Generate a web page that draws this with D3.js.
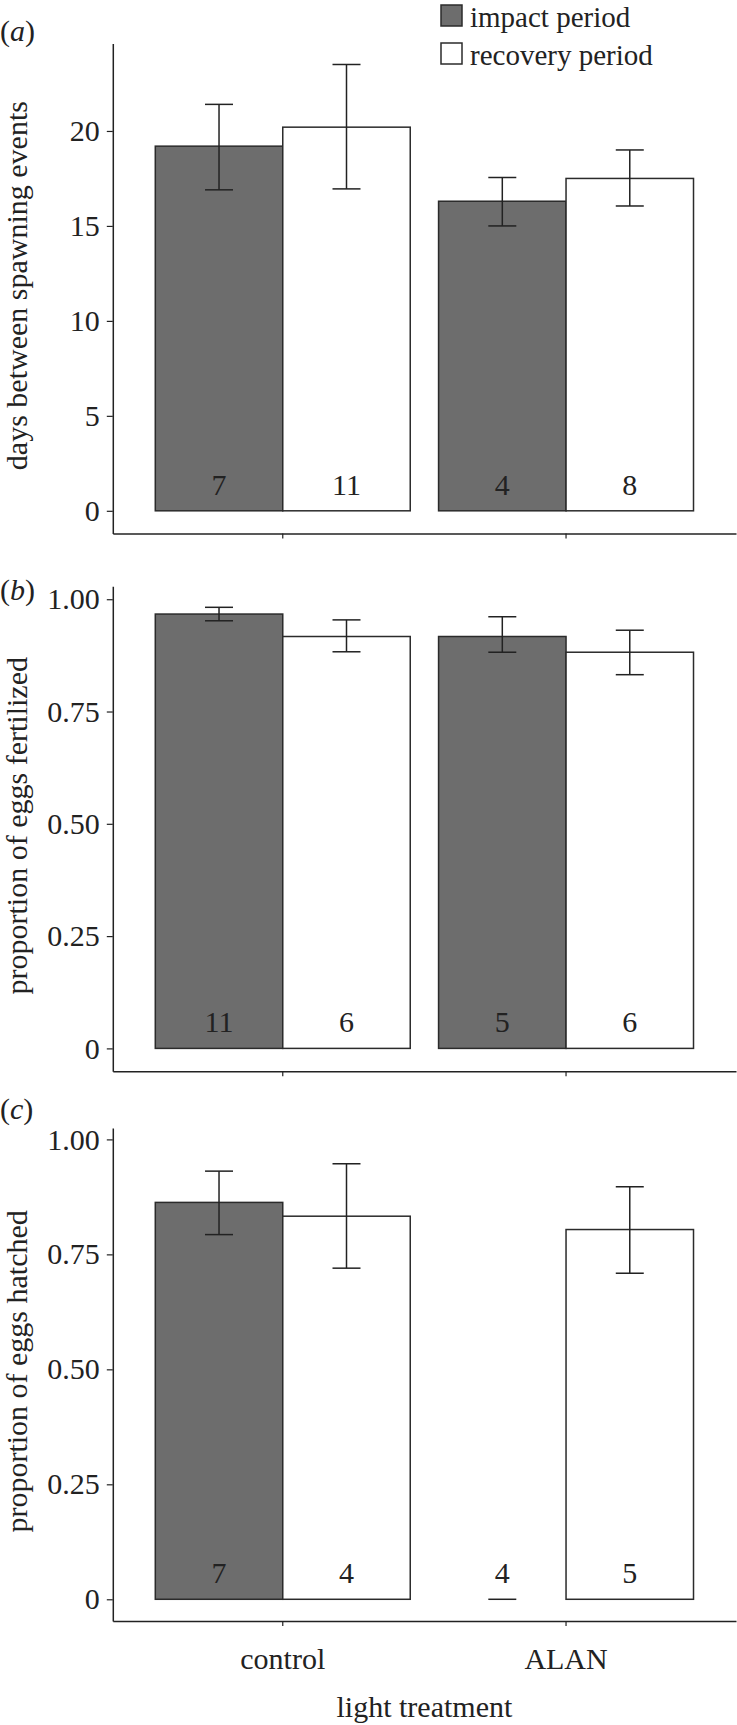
<!DOCTYPE html>
<html>
<head>
<meta charset="utf-8">
<script src="https://cdn.jsdelivr.net/npm/d3@7"></script>
<style>
  html, body { margin: 0; padding: 0; background: #fff; }
  svg { display: block; }
  text { font-family: "Liberation Serif", "Times New Roman", serif; fill: #222; }
</style>
</head>
<body>
<svg id="chart" width="737" height="1725"></svg>
<script>
// ---- data ----
const categories = ["control", "ALAN"];
const periods = ["impact period", "recovery period"];

// (a) days between spawning events
const aImpact = [19.2, 16.3];
const aImpactLo = [16.9, 15.0];
const aImpactHi = [21.4, 17.55];
const aImpactN = [7, 4];
const aRecovery = [20.2, 17.5];
const aRecoveryLo = [16.95, 16.05];
const aRecoveryHi = [23.5, 19.0];
const aRecoveryN = [11, 8];
const aTicks = [0, 5, 10, 15, 20];
const aTickLabels = ["0", "5", "10", "15", "20"];

// (b) proportion of eggs fertilized
const bImpact = [0.967, 0.917];
const bImpactLo = [0.952, 0.882];
const bImpactHi = [0.982, 0.961];
const bImpactN = [11, 5];
const bRecovery = [0.917, 0.882];
const bRecoveryLo = [0.883, 0.832];
const bRecoveryHi = [0.954, 0.931];
const bRecoveryN = [6, 6];

// (c) proportion of eggs hatched
const cImpact = [0.863, 0];
const cImpactLo = [0.793, 0];
const cImpactHi = [0.931, 0];
const cImpactN = [7, 4];
const cRecovery = [0.833, 0.804];
const cRecoveryLo = [0.720, 0.709];
const cRecoveryHi = [0.947, 0.897];
const cRecoveryN = [4, 5];

const propTicks = [0, 0.25, 0.5, 0.75, 1.0];
const propTickLabels = ["0", "0.25", "0.50", "0.75", "1.00"];

const yLabels = ["days between spawning events", "proportion of eggs fertilized", "proportion of eggs hatched"];
const panelTags = ["a", "b", "c"];
const xTitle = "light treatment";

// ---- layout ----
const FS = 30;
const INK = "#222";
const DARK = "#6d6d6d";
const svg = d3.select("#chart");

const xLeft = 112.8, xRight = 736;
const x0 = d3.scaleBand().domain(categories).range([xLeft, xRight]).paddingInner(0.1).paddingOuter(0.15);
const x1 = d3.scaleBand().domain(periods).range([0, x0.bandwidth()]);
const fill = d3.scaleOrdinal().domain(periods).range([DARK, "#ffffff"]);

function rows(imp, impLo, impHi, impN, rec, recLo, recHi, recN) {
  const out = [];
  categories.forEach((c, i) => {
    out.push({cat: c, per: periods[0], v: imp[i], lo: impLo[i], hi: impHi[i], n: impN[i]});
    out.push({cat: c, per: periods[1], v: rec[i], lo: recLo[i], hi: recHi[i], n: recN[i]});
  });
  return out;
}

const panels = [
  { data: rows(aImpact, aImpactLo, aImpactHi, aImpactN, aRecovery, aRecoveryLo, aRecoveryHi, aRecoveryN),
    domain: [-1.2, 24.6], range: [533.6, 43.6], ticks: aTicks, tickLabels: aTickLabels,
    tagY: 41, xLabels: false },
  { data: rows(bImpact, bImpactLo, bImpactHi, bImpactN, bRecovery, bRecoveryLo, bRecoveryHi, bRecoveryN),
    domain: [-0.051, 1.029], range: [1071.3, 586.2], ticks: propTicks, tickLabels: propTickLabels,
    tagY: 600, xLabels: false },
  { data: rows(cImpact, cImpactLo, cImpactHi, cImpactN, cRecovery, cRecoveryLo, cRecoveryHi, cRecoveryN),
    domain: [-0.047, 1.025], range: [1620.9, 1127.9], ticks: propTicks, tickLabels: propTickLabels,
    tagY: 1119, xLabels: true }
];

panels.forEach((p, pi) => {
  const y = d3.scaleLinear().domain(p.domain).range(p.range);
  const g = svg.append("g");

  // bars
  g.selectAll("rect.bar").data(p.data.filter(d => d.v > 0)).join("rect")
    .attr("class", "bar")
    .attr("x", d => x0(d.cat) + x1(d.per))
    .attr("width", x1.bandwidth())
    .attr("y", d => y(d.v))
    .attr("height", d => y(0) - y(d.v))
    .attr("fill", d => fill(d.per))
    .attr("stroke", "#2b2b2b")
    .attr("stroke-width", 1.5);

  // error bars
  const capW = 14;
  const eb = g.selectAll("g.eb").data(p.data).join("g").attr("class", "eb")
    .attr("transform", d => `translate(${x0(d.cat) + x1(d.per) + x1.bandwidth() / 2},0)`)
    .attr("stroke", INK).attr("stroke-width", 1.5);
  eb.filter(d => d.hi > d.lo).append("line")
    .attr("x1", 0).attr("x2", 0).attr("y1", d => y(d.lo)).attr("y2", d => y(d.hi));
  eb.append("line").attr("x1", -capW).attr("x2", capW).attr("y1", d => y(d.hi)).attr("y2", d => y(d.hi));
  eb.filter(d => d.hi > d.lo).append("line").attr("x1", -capW).attr("x2", capW).attr("y1", d => y(d.lo)).attr("y2", d => y(d.lo));

  // sample sizes
  g.selectAll("text.n").data(p.data).join("text").attr("class", "n")
    .attr("x", d => x0(d.cat) + x1(d.per) + x1.bandwidth() / 2)
    .attr("y", y(0) - 16)
    .attr("text-anchor", "middle")
    .attr("font-size", FS)
    .text(d => d.n);

  // y axis
  const ya = d3.axisLeft(y).tickValues(p.ticks).tickFormat((d, i) => p.tickLabels[i])
    .tickSizeInner(6).tickSizeOuter(0).tickPadding(7);
  const yg = g.append("g").attr("transform", `translate(${xLeft},0)`).call(ya);
  yg.select(".domain").attr("stroke", INK).attr("stroke-width", 1.5);
  yg.selectAll(".tick line").attr("stroke", INK).attr("stroke-width", 1.2);
  yg.selectAll(".tick text").attr("font-size", FS).attr("font-family", "Liberation Serif").attr("fill", INK);

  // x axis
  const xa = d3.axisBottom(x0).tickSizeInner(5).tickSizeOuter(0).tickPadding(22)
    .tickFormat(d => p.xLabels ? d : "");
  const xg = g.append("g").attr("transform", `translate(0,${p.range[0]})`).call(xa);
  xg.select(".domain").attr("stroke", INK).attr("stroke-width", 1.5);
  xg.selectAll(".tick line").attr("stroke", INK).attr("stroke-width", 1.2);
  xg.selectAll(".tick text").attr("font-size", FS).attr("font-family", "Liberation Serif").attr("fill", INK);

  // y label
  const mid = (p.range[0] + p.range[1]) / 2 - 3;
  g.append("text")
    .attr("transform", `translate(27,${mid}) rotate(-90)`)
    .attr("text-anchor", "middle")
    .attr("font-size", FS)
    .text(yLabels[pi]);

  // panel tag
  const tag = g.append("text").attr("x", 0).attr("y", p.tagY).attr("font-size", FS);
  tag.append("tspan").text("(");
  tag.append("tspan").attr("font-style", "italic").text(panelTags[pi]);
  tag.append("tspan").text(")");
});

// x title
svg.append("text")
  .attr("x", (xLeft + xRight) / 2)
  .attr("y", 1717)
  .attr("text-anchor", "middle")
  .attr("font-size", FS)
  .text(xTitle);

// legend
const leg = svg.append("g").attr("transform", "translate(441,0)");
periods.forEach((per, i) => {
  const row = leg.append("g").attr("transform", `translate(0,${5 + i * 38})`);
  row.append("rect").attr("x", 0).attr("y", 0).attr("width", 21).attr("height", 21)
    .attr("fill", fill(per)).attr("stroke", "#2b2b2b").attr("stroke-width", 1.5);
  row.append("text").attr("x", 29).attr("y", 21.5).attr("font-size", 29).text(per);
});
</script>
</body>
</html>
